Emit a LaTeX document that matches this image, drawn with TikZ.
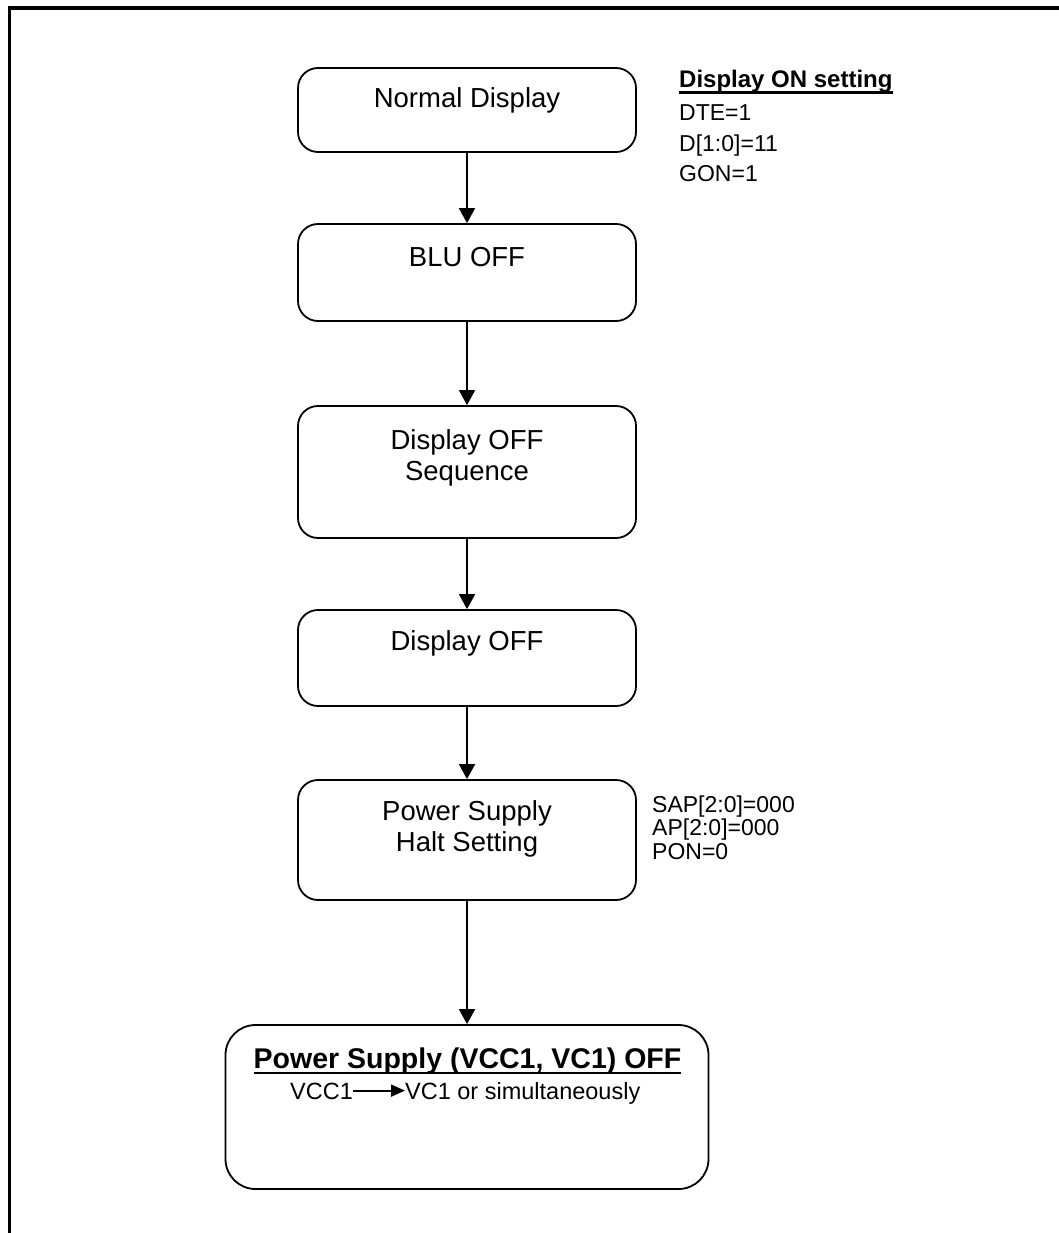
\documentclass[tikz,border=0pt]{standalone}
\usepackage{fontspec}
\setmainfont{Liberation Sans}
\usepackage{tikz}
\usetikzlibrary{positioning}
\usetikzlibrary{arrows.meta}

\begin{document}
\begin{tikzpicture}[x=1pt,y=-1pt,>={Triangle[length=15pt,width=16pt]},
  box/.style={draw,rounded corners=20pt,line width=1.8pt,minimum width=338pt,inner sep=0pt},
  boxtext/.style={inner sep=0pt,align=center,font=\fontsize{27.5}{31}\selectfont},
  note/.style={inner sep=0pt,align=left,anchor=north west,font=\fontsize{23}{#1}\selectfont}]

\useasboundingbox (0,0) rectangle (1059,1233);
\draw[line width=3.5pt] (9.5,1233) -- (9.5,7.8) -- (1059,7.8);

\node[box,minimum height=84pt] (normal) at (467,110) {};
\node[box,minimum height=97pt] (blu) at (467,272.5) {};
\node[box,minimum height=132pt] (offseq) at (467,472) {};
\node[box,minimum height=96pt] (off) at (467,658) {};
\node[box,minimum height=120pt] (halt) at (467,840) {};
\node[box,rounded corners=30pt,minimum width=483pt,minimum height=164pt] (vccoff) at (467,1107) {};

\node[boxtext,below=20.5pt of normal.north] (normalt) {Normal Display};
\node[boxtext,below=23.5pt of blu.north] (blut) {BLU OFF};
\node[boxtext,below=24.5pt of offseq.north] (offseqt) {Display OFF\\Sequence};
\node[boxtext,below=21.5pt of off.north] (offt) {Display OFF};
\node[boxtext,below=21.5pt of halt.north] (haltt) {Power Supply\\Halt Setting};

\node[inner sep=0pt,anchor=base,font=\fontsize{28.5}{31}\selectfont\bfseries] (vcct) at (467.5,1068) {Power Supply (VCC1, VC1) OFF};
\draw[line width=2.6pt] ([yshift=-5pt]vcct.base west) -- ([yshift=-5pt]vcct.base east);
\node[inner sep=0pt,anchor=base west,font=\fontsize{23.5}{31}\selectfont] (vcc) at (290,1099) {VCC1};
\node[inner sep=0pt,anchor=base west,font=\fontsize{23.5}{31}\selectfont] (vc) at (405,1099) {VC1 or simultaneously};
\draw[line width=1.8pt,-{Triangle[length=14pt,width=12pt]}] ([yshift=8.4pt]vcc.base east) -- ([yshift=8.4pt]vc.base west);

\node[inner sep=0pt,anchor=base west,font=\fontsize{24}{31}\selectfont\bfseries] (onhead) at (679,88) {Display ON setting};
\draw[line width=2.6pt] ([yshift=-4.5pt]onhead.base west) -- ([yshift=-4.5pt]onhead.base east);
\node[note=30.5pt] (onset) at (679,104.5) {DTE=1\\D[1:0]=11\\GON=1};
\node[note=23.5pt] (haltset) at (652,795.2) {SAP[2:0]=000\\AP[2:0]=000\\PON=0};

\draw[line width=1.8pt,->] (normal) -- (blu);
\draw[line width=1.8pt,->] (blu) -- (offseq);
\draw[line width=1.8pt,->] (offseq) -- (off);
\draw[line width=1.8pt,->] (off) -- (halt);
\draw[line width=1.8pt,->] (halt) -- (vccoff);
\end{tikzpicture}
\end{document}
